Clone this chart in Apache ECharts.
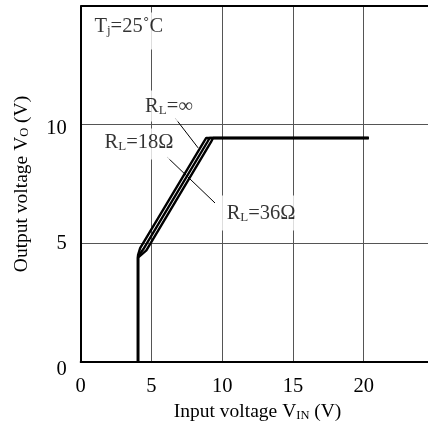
<!DOCTYPE html>
<html>
<head>
<meta charset="utf-8">
<script src="https://cdn.jsdelivr.net/npm/echarts@6/dist/echarts.min.js"></script>
<style>
html,body{margin:0;padding:0;background:#fff;}
#chart{width:428px;height:423px;}
</style>
</head>
<body>
<div id="chart"></div>
<script>
// Axis ticks
const xTicks = [0, 5, 10, 15, 20, 25];
const yTicks = [0, 5, 10, 15];

// Curves: [Vin, Vout]
const curveInf = [[4.05,0],[4.05,4.5],[4.2,4.8],[8.72,9.3],[8.87,9.44],[20.35,9.44]];
const curve18  = [[4.05,0],[4.05,4.45],[4.42,4.75],[8.96,9.28],[9.11,9.44],[20.35,9.44]];
const curve36  = [[4.05,0],[4.05,4.4],[4.64,4.7],[9.2,9.26],[9.35,9.44],[20.35,9.44]];

// Annotation texts and their anchor points (data units)
const noteTexts = ['{n|T}{s|j}{n|=25˚C}', '{n|R}{s|L}{n|=∞}', '{n|R}{s|L}{n|=18Ω}', '{n|R}{s|L}{n|=36Ω}'];
const notePoints = [[3.4, 13.95], [6.24, 10.79], [4.12, 9.19], [12.75, 6.28]];
const notePads = [[4,4,12,4],[6,4,4,4],[4,4,6,4],[8,6,6,6]];

// Leader lines (data units)
const leaderInf = [[6.67, 10.28], [8.3, 9.02]];
const leader36  = [[6.10, 8.64], [9.49, 6.70]];

const FONT = 'Liberation Serif';
const FS = 20.5;
const rich = {
  n: {fontFamily: FONT, fontSize: FS, color: '#000'},
  s: {fontFamily: FONT, fontSize: 13, color: '#000', verticalAlign: 'bottom'}
};
const richX = {
  n: {fontFamily: FONT, fontSize: 19.5, color: '#000'},
  s: {fontFamily: FONT, fontSize: 12.5, color: '#000', verticalAlign: 'bottom'}
};

const chart = echarts.init(document.getElementById('chart'), null, {renderer: 'canvas'});

const curveStyle = {color: '#000', width: 2.4};
function curve(data){
  return {type: 'line', data: data, showSymbol: false, symbol: 'none', lineStyle: curveStyle, z: 3, animation: false};
}
function leader(data){
  return {type: 'line', data: data, showSymbol: false, symbol: 'none', lineStyle: {color: '#000', width: 1}, z: 2, animation: false};
}

const topBorder = curve(curveInf);
topBorder.markLine = {
  silent: true, symbol: ['none', 'none'], animation: false,
  label: {show: false},
  lineStyle: {color: '#000', width: 2, type: 'solid'},
  data: [{yAxis: yTicks[yTicks.length-1]}]
};

chart.setOption({
  animation: false,
  backgroundColor: '#fff',
  grid: {
    left: 80.7, right: -6.5, top: 6, bottom: 61,
    show: false, containLabel: false, outerBoundsMode: 'none'
  },
  xAxis: {
    type: 'value', min: xTicks[0], max: xTicks[xTicks.length-1], interval: 5,
    axisLine: {show: true, lineStyle: {color: '#000', width: 2}},
    axisTick: {show: false},
    splitLine: {show: true, lineStyle: {color: '#555', width: 1}},
    axisLabel: {show: true, margin: 14, fontFamily: FONT, fontSize: FS, color: '#000', showMaxLabel: false},
    name: '{n|Input voltage V}{s|IN}{n| (V)}',
    nameLocation: 'middle', nameGap: 39,
    nameTextStyle: {rich: richX}
  },
  yAxis: {
    type: 'value', min: yTicks[0], max: yTicks[yTicks.length-1], interval: 5,
    axisLine: {show: true, lineStyle: {color: '#000', width: 2}},
    axisTick: {show: false},
    splitLine: {show: true, lineStyle: {color: '#555', width: 1}},
    axisLabel: {
      show: true, margin: 14, showMaxLabel: false,
      formatter: function(v){ return v === 0 ? '{z|0}' : (v === 10 ? '{t|10}' : '{n|' + v + '}'); },
      rich: {
        n: {fontFamily: FONT, fontSize: FS, color: '#000'},
        t: {fontFamily: FONT, fontSize: FS, color: '#000', padding: [8,0,0,0]},
        z: {fontFamily: FONT, fontSize: FS, color: '#000', padding: [16,0,0,0]}
      }
    },
    name: '{n|Output voltage V}{s|O}{n| (V)}',
    nameLocation: 'middle', nameGap: 49, nameRotate: 90,
    nameTextStyle: {rich: richX}
  },
  series: [
    topBorder,
    curve(curve18),
    curve(curve36),
    leader(leaderInf),
    leader(leader36),
    {
      type: 'scatter', symbolSize: 0, z: 5, animation: false,
      data: notePoints.map(function(p, i){
        return {
          value: p,
          label: {
            show: true, position: 'inside',
            formatter: noteTexts[i], rich: rich,
            backgroundColor: '#fff', padding: notePads[i]
          }
        };
      }),
      silent: true
    }
  ]
});
</script>
</body>
</html>
